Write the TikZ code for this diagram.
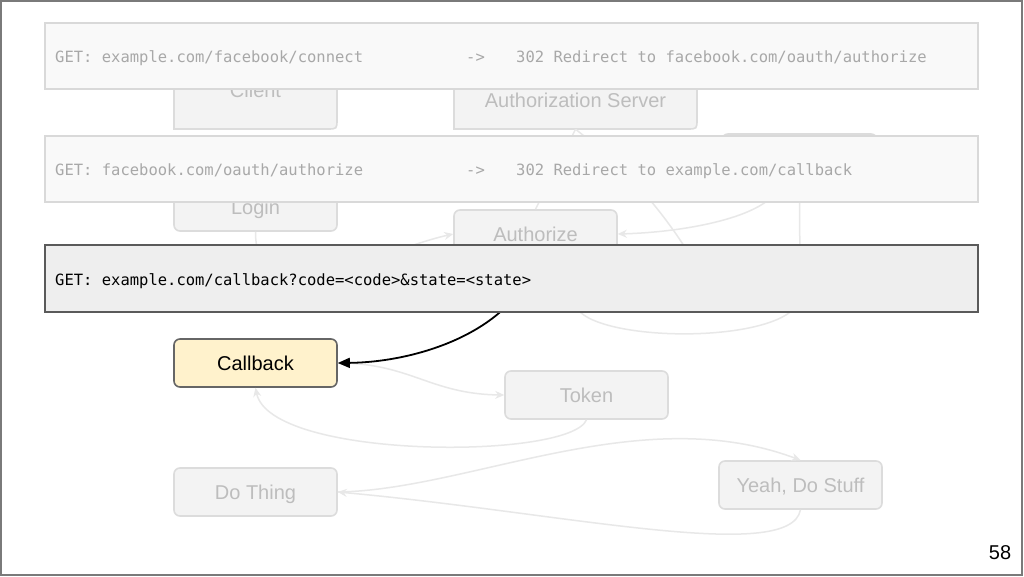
\documentclass[tikz,border=0pt]{standalone}
\usepackage{fontspec}
\setmainfont{Liberation Sans}
\newfontfamily\codefont{DejaVu Sans Mono}
\usetikzlibrary{arrows.meta}
\definecolor{fainttxt}{HTML}{BDBDBD}
\definecolor{faintfill}{HTML}{F3F3F3}
\definecolor{faintdraw}{HTML}{DCDCDC}
\definecolor{faintline}{HTML}{E8E8E8}
\definecolor{bannerfill}{HTML}{F9F9F9}
\definecolor{bannerdraw}{HTML}{D9D9D9}
\definecolor{bannertxt}{HTML}{A8A8A8}
\definecolor{cbfill}{HTML}{FFF2CC}
\definecolor{darkdraw}{HTML}{666666}
\definecolor{hifill}{HTML}{EEEEEE}
\definecolor{hidraw}{HTML}{5A5A5A}
\definecolor{framecol}{HTML}{7A7A7A}
\begin{document}
\begin{tikzpicture}[x=1pt,y=-1pt,
  box/.style={rectangle, rounded corners=6pt, minimum width=163pt, minimum height=48pt,
    line width=1.6pt, inner sep=0pt, font=\fontsize{20}{24}\selectfont,
    text height=14.4pt, text depth=0pt},
  faintbox/.style={box, draw=faintdraw, fill=faintfill, text=fainttxt},
  faintlabel/.style={rectangle, inner sep=0pt, font=\fontsize{20}{24}\selectfont,
    text height=14.4pt, text depth=0pt, text=fainttxt},
  faintshape/.style={draw=faintdraw, fill=faintfill, line width=1.6pt},
  cbbox/.style={box, draw=darkdraw, fill=cbfill, text=black},
  bannerbox/.style={rectangle, draw=bannerdraw, fill=bannerfill, line width=1.5pt,
    minimum width=933pt, minimum height=66pt, inner sep=0pt},
  hibanner/.style={rectangle, draw=hidraw, fill=hifill, line width=2pt,
    minimum width=933pt, minimum height=67pt, inner sep=0pt},
  codetxt/.style={anchor=base west, inner sep=0pt,
    font=\codefont\fontsize{15.5}{18}\selectfont, text=bannertxt},
  faintconn/.style={draw=faintline, line width=1.5pt},
  faintarrow/.style={faintconn, -{Stealth[length=9pt,width=8pt]}},
  blackarrow/.style={draw=black, line width=1.8pt, -{Triangle[length=12pt,width=10pt]}},
]
\useasboundingbox (0,0) rectangle (1024,576);
\fill[white] (0,0) rectangle (1024,576);

% faint nodes
\draw[faintshape] (174,51) -- (174,129) -- (327,129) .. controls (337,129) .. (337,119) -- (337,51) -- cycle;
\node[faintlabel, minimum width=163pt, minimum height=78pt] (client) at (255.5,90) {Client};
\draw[faintshape] (454,72) -- (454,129) -- (687,129) .. controls (697,129) .. (697,119) -- (697,72) -- cycle;
\node[faintlabel, minimum width=243pt, minimum height=57pt] (as) at (575.5,100.5) {Authorization Server};
\node[faintbox, minimum width=155pt] (hidbox) at (799.5,158) {};
\node[faintbox] (login) at (255.5,207) {Login};
\node[faintbox] (auth) at (535.5,234) {Authorize};
\node[cbbox] (callback) at (255.5,363) {Callback};
\node[faintbox] (token) at (586.5,395) {Token};
\node[faintbox] (dothing) at (255.5,492) {Do Thing};
\node[faintbox] (yeah) at (800.5,485) {Yeah, Do Stuff};
\coordinate (bend) at (710,290);

% faint connectors
\draw[faintconn] (as.south) -- (auth.north);
\draw[faintconn] (as.south) .. controls (615,160) and (665,205) .. (bend);
\draw[faintarrow] (login.south) .. controls (255,320) and (380,250) .. (auth.west);
\draw[faintarrow] ([xshift=-20pt]hidbox.south) .. controls (775,215) and (690,232) .. (auth.east);
\draw[faintconn] (hidbox.south) -- (800,295) .. controls (800,345) and (590,345) .. (575,305) -- (auth.south);
\draw[faintarrow] (callback.east) .. controls (410,363) and (430,394) .. (token.west);
\draw[faintarrow] (token.south) .. controls (570,460) and (270,460) .. (callback.south);
\draw[faintarrow] (dothing.east) .. controls (470,490) and (640,400) .. (yeah.north);
\draw[faintarrow] (yeah.south) .. controls (790,565) and (560,512) .. (dothing.east);

% highlighted connector
\draw[blackarrow] (auth.south) .. controls (515,330) and (420,362) .. (callback.east);

% banners
\node[bannerbox] (ban1) at (511.5,56) {};
\node[codetxt] (ban1a) at (55,62.5) {GET: example.com/facebook/connect};
\node[codetxt] (ban1b) at (466,62.5) {->};
\node[codetxt] (ban1c) at (516,62.5) {302 Redirect to facebook.com/oauth/authorize};

\node[bannerbox] (ban2) at (511.5,169) {};
\node[codetxt] (ban2a) at (55,175.5) {GET: facebook.com/oauth/authorize};
\node[codetxt] (ban2b) at (466,175.5) {->};
\node[codetxt] (ban2c) at (516,175.5) {302 Redirect to example.com/callback};

\node[hibanner] (ban3) at (511.5,278.5) {};
\node[codetxt, text=black] (ban3a) at (55,285) {GET: example.com/callback?code=<code>\&state=<state>};

% page number and frame
\node[inner sep=0pt, font=\fontsize{20}{24}\selectfont] (pagenum) at (1000,552.5) {58};
\draw[framecol, line width=2pt] (1,1) rectangle (1022,575);
\end{tikzpicture}
\end{document}
